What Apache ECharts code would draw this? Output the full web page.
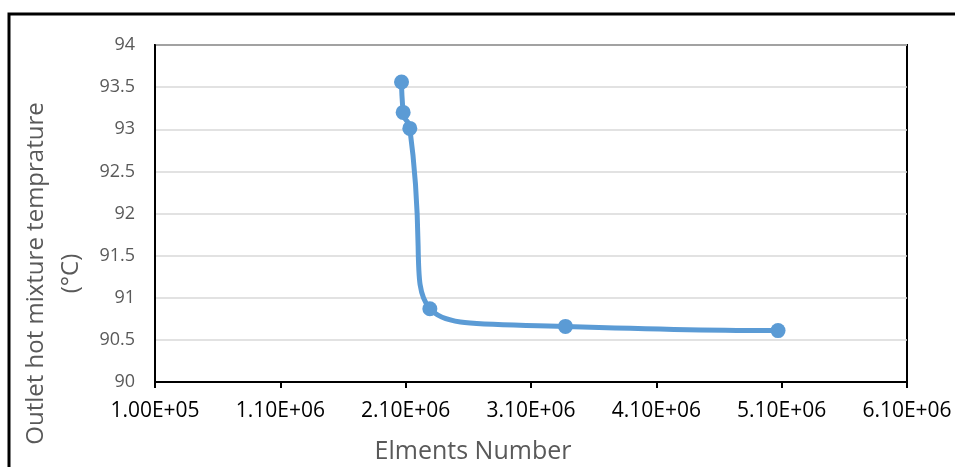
<!DOCTYPE html>
<html>
<head>
    <meta charset="utf-8">
    <title>Outlet hot mixture temprature</title>
    <script src="https://cdn.jsdelivr.net/npm/echarts@6/dist/echarts.min.js"></script>
    <style type="text/css">
        html, body {
            margin: 0;
            padding: 0;
            background: #ffffff;
        }
        #chart {
            width: 955px;
            height: 467px;
        }
    </style>
</head>
<body>
<div id="chart"></div>
<script>
    // 网格数 / 出口温度
    var elements = [2.067e6, 2.080e6, 2.133e6, 2.293e6, 3.375e6, 5.071e6];
    var temperature = [93.56, 93.20, 93.01, 90.87, 90.66, 90.61];
    var xTicks = [1e5, 1.1e6, 2.1e6, 3.1e6, 4.1e6, 5.1e6, 6.1e6];
    var yTicks = [90, 90.5, 91, 91.5, 92, 92.5, 93, 93.5, 94];

    var font = '"Open Sans", "Noto Sans", sans-serif';

    // 科学计数法 1.00E+05
    function sci(v) {
        var s = v.toExponential(2).toUpperCase();
        var parts = s.split('E');
        var sign = parts[1].charAt(0);
        var exp = parts[1].substring(1);
        if (exp.length < 2) {
            exp = '0' + exp;
        }
        return parts[0] + 'E' + sign + exp;
    }

    var chart = echarts.init(document.getElementById('chart'));
    var option = {
        backgroundColor: '#ffffff',
        animation: false,
        graphic: [
            {
                type: 'polyline',
                shape: {points: [[9, 470], [9, 14], [960, 14]]},
                style: {stroke: '#000000', lineWidth: 3, fill: null}
            }
        ],
        grid: {
            left: 155,
            top: 45,
            right: 48,
            bottom: 85,
            outerBoundsMode: 'none',
            show: true,
            borderColor: '#000000',
            borderWidth: 2
        },
        xAxis: {
            type: 'value',
            min: xTicks[0],
            max: xTicks[xTicks.length - 1],
            interval: xTicks[1] - xTicks[0],
            name: 'Elments Number',
            nameLocation: 'middle',
            nameGap: 57,
            nameTextStyle: {
                color: '#595959', fontSize: 25, fontFamily: font,
                padding: [0, 116, 0, 0]
            },
            axisLine: {show: true, lineStyle: {color: '#000000', width: 2}},
            axisTick: {show: true, inside: false, length: 6, lineStyle: {color: '#000000', width: 2}},
            axisLabel: {
                color: '#000000',
                fontSize: 21,
                fontFamily: font,
                margin: 19,
                formatter: function (v) {
                    return sci(v);
                }
            },
            splitLine: {show: false}
        },
        yAxis: {
            type: 'value',
            min: yTicks[0],
            max: yTicks[yTicks.length - 1],
            interval: yTicks[1] - yTicks[0],
            name: 'Outlet hot mixture temprature\n(°C)',
            nameLocation: 'middle',
            nameRotate: 90,
            nameGap: 62,
            nameTextStyle: {
                color: '#595959', fontSize: 24, fontFamily: font, lineHeight: 35,
                padding: [0, 120, 0, 0]
            },
            axisLine: {show: true, lineStyle: {color: '#000000', width: 2}},
            axisTick: {show: false},
            axisLabel: {color: '#595959', fontSize: 18, fontFamily: font, margin: 20},
            splitLine: {show: true, lineStyle: {color: '#d9d9d9', width: 1.5}}
        },
        series: [
            {
                type: 'line',
                data: elements.map(function (x, i) {
                    return [x, temperature[i]];
                }),
                smooth: 0.65,
                symbol: 'circle',
                symbolSize: 15,
                lineStyle: {color: '#5b9bd5', width: 5},
                itemStyle: {color: '#5b9bd5'}
            }
        ]
    };
    chart.setOption(option);
</script>
</body>
</html>
